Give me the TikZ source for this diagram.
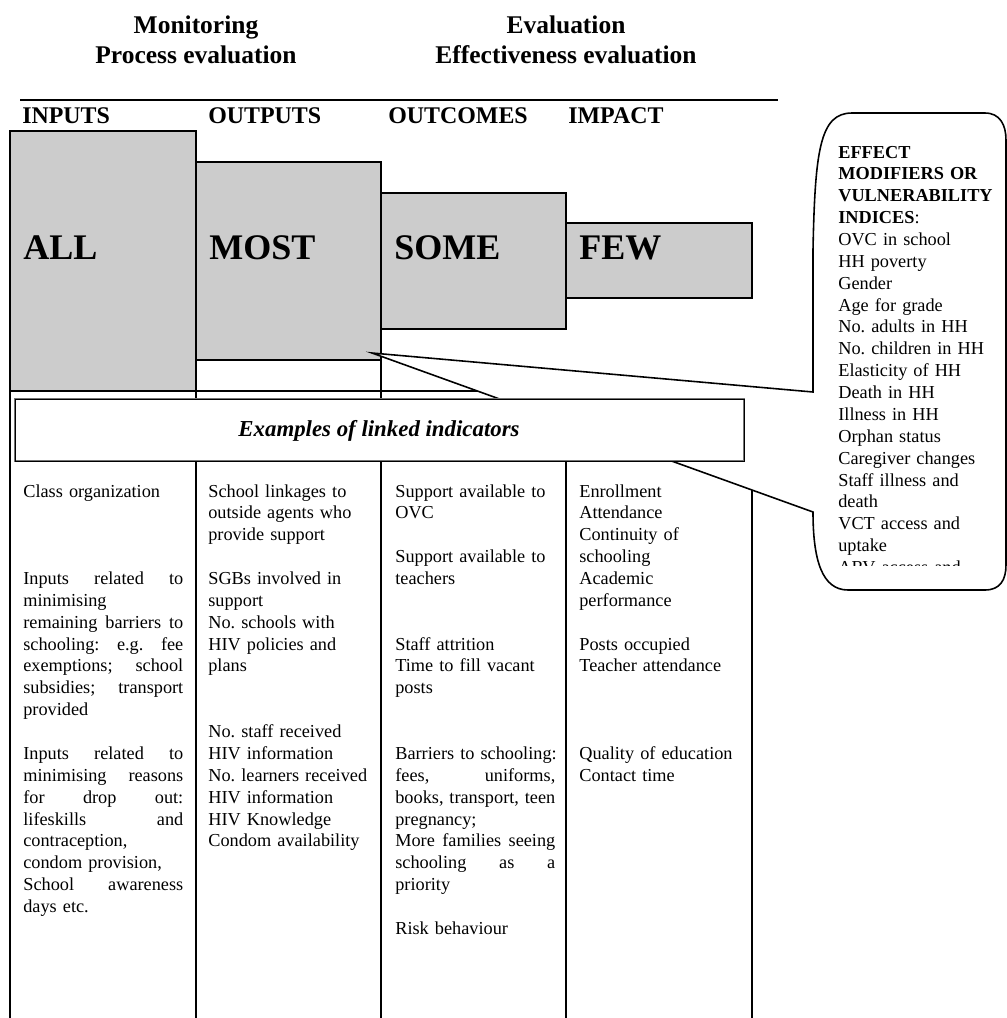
\documentclass[tikz,border=0pt]{standalone}
\usepackage{fontspec}
\setmainfont{Liberation Serif}
\usepackage{tikz}
\frenchspacing
\newcommand{\jline}[1]{\makebox[3.2cm][l]{#1}}

\begin{document}
\begin{tikzpicture}[x=0.02cm, y=0.02cm]
\tikzstyle{every node}+=[inner sep=0pt]
\tikzstyle{head}=[font=\fontsize{14.5}{17}\selectfont\bfseries, anchor=base]
\tikzstyle{coltitle}=[font=\fontsize{13.6}{16}\selectfont\bfseries, anchor=base west]
\tikzstyle{bar}=[draw=black, line width=0.9pt, fill=black!20]
\tikzstyle{bigword}=[font=\fontsize{20.5}{24}\selectfont\bfseries, anchor=base west]
\tikzstyle{rule}=[black, line width=1.1pt]
\tikzstyle{cell}=[font=\fontsize{10.4}{12.45}\selectfont, anchor=base west, text width=3.5cm, align=left]
\useasboundingbox (0,0) rectangle (1007,-1018);
\node [head] (monitor) at (196,-33) {Monitoring};
\node [head] (process) at (196,-63) {Process evaluation};
\node [head] (evaluation) at (566,-33) {Evaluation};
\node [head] (effect) at (566,-63) {Effectiveness evaluation};
\draw [rule] (20,-100) -- (778,-100);
\node [coltitle] (inputs) at (22,-123) {INPUTS};
\node [coltitle] (outputs) at (208,-123) {OUTPUTS};
\node [coltitle] (outcomes) at (388,-123) {OUTCOMES};
\node [coltitle] (impact) at (568,-123) {IMPACT};
\draw [bar] (10,-131) rectangle (196,-391);
\draw [bar] (196,-162) rectangle (381,-360);
\draw [bar] (381,-193) rectangle (566,-329);
\draw [bar] (566,-223) rectangle (752,-298);
\node [bigword] (all) at (23,-259) {ALL};
\node [bigword] (most) at (209,-259) {MOST};
\node [bigword] (some) at (394,-259) {SOME};
\node [bigword] (few) at (579,-259) {FEW};
\draw [rule] (10,-391) -- (752,-391);
\draw [rule] (10,-391) -- (10,-1018);
\draw [rule] (196,-391) -- (196,-1018);
\draw [rule] (381,-360) -- (381,-1018);
\draw [rule] (566,-391) -- (566,-1018);
\draw [rule, line width=1.5pt] (752,-391) -- (752,-1018);
\coordinate (tip) at (372,-353);
\draw [black, line width=0.9pt, fill=white] (tip) -- (813,-392) -- (813,-250)
  .. controls (815,-150) and (820,-113) .. (852,-113) -- (985,-113)
  .. controls (1000,-113) and (1006,-125) .. (1006,-140) -- (1006,-565)
  .. controls (1006,-580) and (1000,-590) .. (985,-590) -- (848,-590)
  .. controls (822,-590) and (813,-560) .. (813,-512) -- cycle;
\draw [black!55, line width=1.6pt, fill=white] (15,-399) rectangle (744,-461);
\draw [black, line width=0.5pt] (15,-399) rectangle (744,-461);
\node [font=\fontsize{13}{16}\selectfont\bfseries\itshape, anchor=base] (examples) at (379,-436) {Examples of linked indicators};
\node [cell] (inputlist) at (23,-497) {Class organization\\
\mbox{}\\ \mbox{}\\ \mbox{}\\
\jline{Inputs\hfill related\hfill to}\\
minimising\\
\jline{remaining\hfill barriers\hfill to}\\
\jline{schooling:\hfill e.g.\hfill fee}\\
\jline{exemptions;\hfill school}\\
\jline{subsidies;\hfill transport}\\
provided\\
\mbox{}\\
\jline{Inputs\hfill related\hfill to}\\
\jline{minimising\hfill reasons}\\
\jline{for\hfill drop\hfill out:}\\
\jline{lifeskills\hfill and}\\
contraception,\\
condom provision,\\
\jline{School\hfill awareness}\\
days etc.};
\node [cell] (outputlist) at (208,-497) {School linkages to\\
outside agents who\\
provide support\\
\mbox{}\\
SGBs involved in\\
support\\
No. schools with\\
HIV policies and\\
plans\\
\mbox{}\\ \mbox{}\\
No. staff received\\
HIV information\\
No. learners received\\
HIV information\\
HIV Knowledge\\
Condom availability};
\node [cell] (outcomelist) at (395,-497) {Support available to\\
OVC\\
\mbox{}\\
Support available to\\
teachers\\
\mbox{}\\ \mbox{}\\
Staff attrition\\
Time to fill vacant\\
posts\\
\mbox{}\\ \mbox{}\\
Barriers to schooling:\\
\jline{fees,\hfill uniforms,}\\
\jline{books,\hfill transport,\hfill teen}\\
pregnancy;\\
\jline{More\hfill families\hfill seeing}\\
\jline{schooling\hfill as\hfill a}\\
priority\\
\mbox{}\\
Risk behaviour};
\node [cell] (impactlist) at (579,-497) {Enrollment\\
Attendance\\
Continuity of\\
schooling\\
Academic\\
performance\\
\mbox{}\\
Posts occupied\\
Teacher attendance\\
\mbox{}\\ \mbox{}\\ \mbox{}\\
Quality of education\\
Contact time};
\begin{scope}
\clip (813,-113) rectangle (1006,-565);
\node [cell] (modifiers) at (838,-158) {\textbf{EFFECT}\\
\textbf{MODIFIERS OR}\\
\textbf{VULNERABILITY}\\
\textbf{INDICES}:\\
OVC in school\\
HH poverty\\
Gender\\
Age for grade\\
No. adults in HH\\
No. children in HH\\
Elasticity of HH\\
Death in HH\\
Illness in HH\\
Orphan status\\
Caregiver changes\\
Staff illness and\\
death\\
VCT access and\\
uptake\\
ARV access and};
\end{scope}
\end{tikzpicture}
\end{document}
